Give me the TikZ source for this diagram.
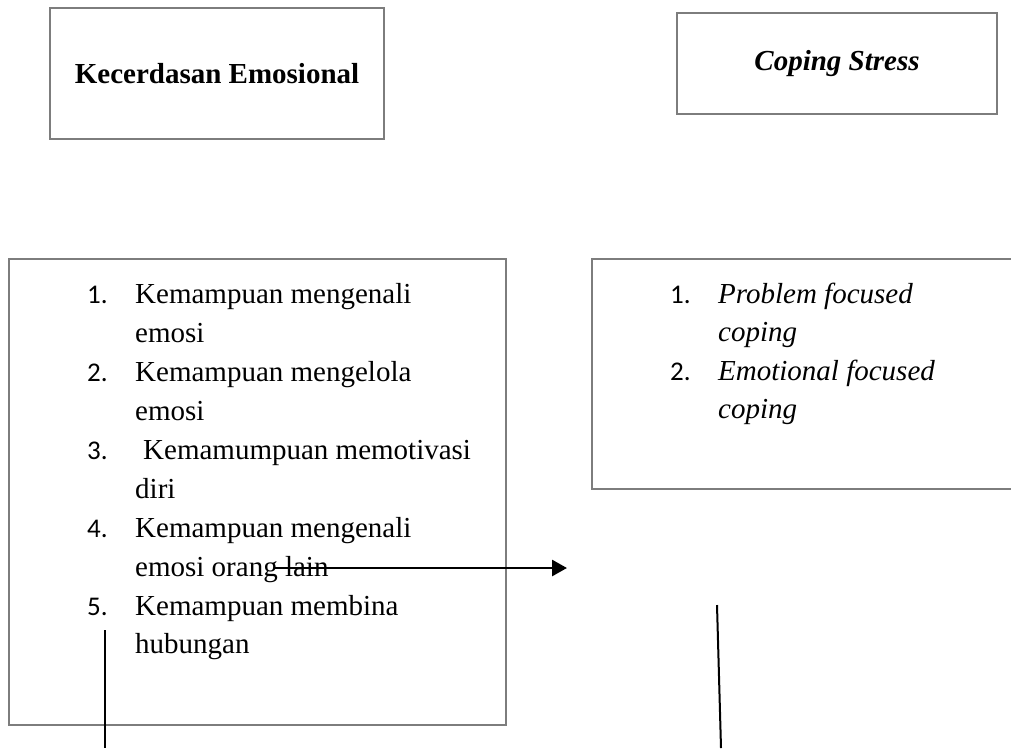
\documentclass[tikz,border=0pt]{standalone}
\usepackage{fontspec}
\setmainfont{Liberation Serif}
\newfontfamily\numfont{Carlito}
\usetikzlibrary{arrows.meta}
\definecolor{boxgray}{RGB}{125,125,125}
\tikzset{
  box/.style={draw=boxgray, line width=2pt, rectangle, inner sep=0pt},
  txt/.style={anchor=base west, inner sep=0pt, font=\fontsize{29}{39}\selectfont},
  num/.style={anchor=base west, inner sep=0pt, font=\numfont\fontsize{27}{39}\selectfont},
  conn/.style={draw=black, line width=2pt},
  arr/.style={draw=black, line width=2.8pt, -{Triangle[length=15pt,width=16pt]}}
}
\begin{document}
\begin{tikzpicture}[x=1pt,y=-1pt]
\clip (0,0) rectangle (1011,748);
% top boxes
\node[box, minimum width=334pt, minimum height=131pt] (ke) at (217,73.5)
  {\fontsize{29}{35}\selectfont\bfseries Kecerdasan Emosional};
\node[box, minimum width=320pt, minimum height=101pt] (cs) at (837,63.5)
  {\fontsize{29}{35}\selectfont\bfseries\itshape Coping Stress};
% lower boxes
\node[box, minimum width=497pt, minimum height=466pt] (kebox) at (257.5,492) {};
\node[box, minimum width=440pt, minimum height=230pt] (csbox) at (812,374) {};
% left list
\node[num] (n1) at (87,303) {1.};
\node[txt] (l1) at (135,303) {Kemampuan mengenali};
\node[txt] (l2) at (135,342) {emosi};
\node[num] (n2) at (87,381) {2.};
\node[txt] (l3) at (135,381) {Kemampuan mengelola};
\node[txt] (l4) at (135,420) {emosi};
\node[num] (n3) at (87,459) {3.};
\node[txt] (l5) at (143,459) {Kemamumpuan memotivasi};
\node[txt] (l6) at (135,498) {diri};
\node[num] (n4) at (87,537) {4.};
\node[txt] (l7) at (135,537) {Kemampuan mengenali};
\node[txt] (l8) at (135,576) {emosi orang lain};
\node[num] (n5) at (87,615) {5.};
\node[txt] (l9) at (135,615) {Kemampuan membina};
\node[txt] (l10) at (135,653) {hubungan};
% right list
\node[num] (m1) at (670,303) {1.};
\node[txt] (r1) at (718,303) {\itshape Problem focused};
\node[txt] (r2) at (718,341) {\itshape coping};
\node[num] (m2) at (670,380) {2.};
\node[txt] (r3) at (718,380) {\itshape Emotional focused};
\node[txt] (r4) at (718,418) {\itshape coping};
% connectors
\coordinate (a1) at (275,568);
\coordinate (a2) at (567,568);
\draw[arr] (a1) -- (a2);
\coordinate (v1t) at (105,630);
\coordinate (v1b) at (105,748);
\draw[conn] (v1t) -- (v1b);
\coordinate (v2t) at (717,605);
\coordinate (v2b) at (721,748);
\draw[conn] (v2t) -- (v2b);
\end{tikzpicture}
\end{document}
